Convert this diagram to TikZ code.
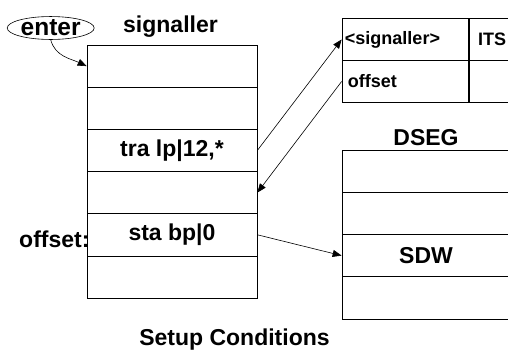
\documentclass[tikz,border=0pt]{standalone}
\usepackage{fontspec}
\setmainfont{Liberation Sans}
\usetikzlibrary{shapes.geometric,arrows.meta}

\begin{document}
\begin{tikzpicture}[x=1pt,y=-1pt,
  every node/.style={font=\bfseries\fontsize{23}{27}\selectfont},
  cell/.style={draw,rectangle,line width=0.7pt,inner sep=0pt,
    minimum width=170pt,minimum height=42.2pt},
  dcell/.style={cell,minimum width=168pt,minimum height=42.25pt},
  tcell/.style={draw,rectangle,line width=0.7pt,inner sep=3pt,
    minimum height=42pt,align=left,
    font=\bfseries\fontsize{18}{22}\selectfont},
  link/.style={line width=0.6pt,-{Triangle[length=9pt,width=7pt]}},]

  \useasboundingbox (0,0) rectangle (508,354);
  \clip (0,0) rectangle (508,354);

  % signaller segment
  \node[anchor=base] (sigtitle) at (170.5,32) {signaller};
  \foreach \i/\txt in {1/,2/,3/{tra lp|12,*},4/,5/{sta bp|0},6/}
    \node[cell] (s\i) at (172,{66.1+42.17*(\i-1)}) {\txt};
  \node[anchor=base east] (offlbl) at (93,247) {offset:};

  % entry point
  \node[draw,ellipse,line width=0.6pt,inner sep=0pt,minimum width=87pt,
    minimum height=22.7pt,font=\bfseries\fontsize{24.5}{28}\selectfont]
    (enter) at (50.7,28) {enter};

  % ITS pair
  \node[tcell,text width=120.5pt] (its1) at (405.2,39.5) {<signaller>};
  \node[tcell,text width=60pt,anchor=west] (its2) at (its1.east) {\hspace{6pt}ITS};
  \node[tcell,text width=120.5pt] (its3) at (405.2,81.5) {\hspace{3pt}offset};
  \node[tcell,text width=60pt,anchor=west] (its4) at (its3.east) {};

  % DSEG
  \node[anchor=base] (dsegtitle) at (426,145.7) {DSEG};
  \foreach \i/\txt in {1/,2/,3/SDW,4/}
    \node[dcell] (d\i) at (426,{171.1+42.25*(\i-1)}) {\txt};

  % connections
  \draw[link] (enter.south) to[out=-75,in=155] (s1.west);
  \draw[link] (s3.east) -- (its1.west);
  \draw[link] (its3.west) -- (s4.east);
  \draw[link] (s5.east) -- (d3.west);

  % caption
  \node[anchor=base] (caption) at (234.5,345.7) {Setup Conditions};

\end{tikzpicture}
\end{document}
